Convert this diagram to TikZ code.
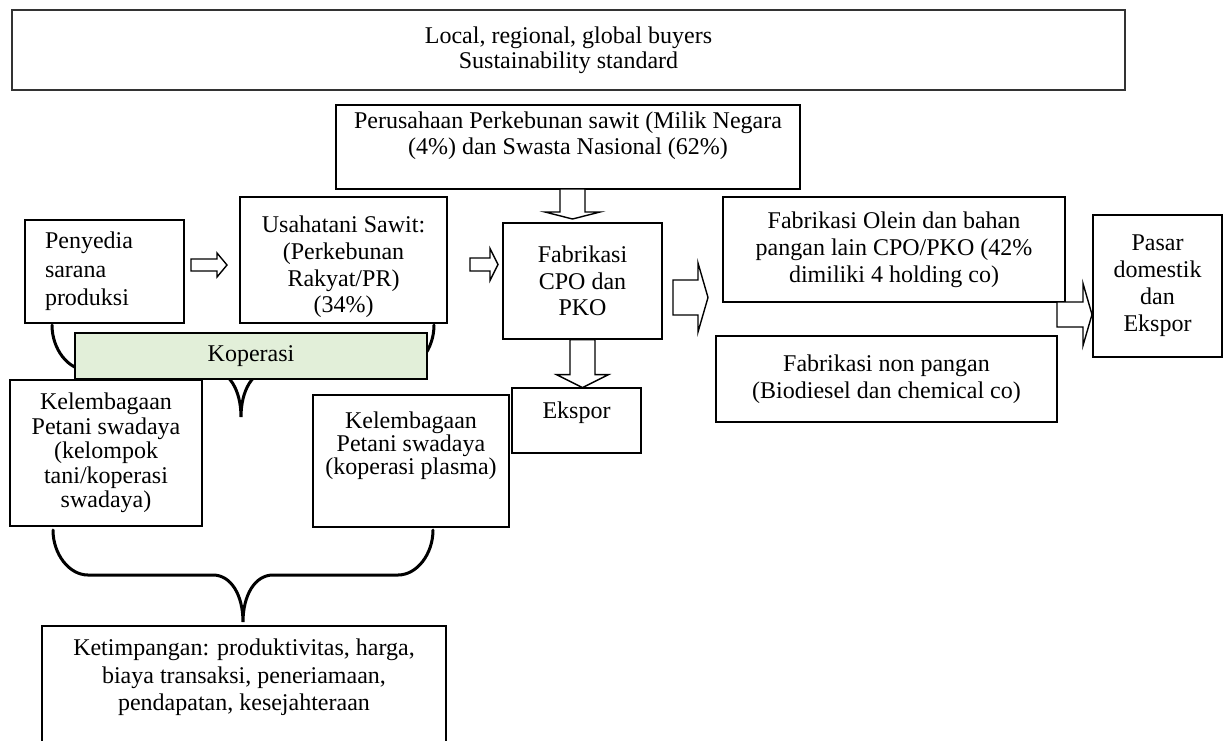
\documentclass[tikz,border=0pt]{standalone}
\usepackage{fontspec}
\setmainfont{Liberation Serif}
\usepackage{tikz}
\usetikzlibrary{calc}
\definecolor{kopgreen}{HTML}{E2EFD9}
\tikzset{
  box/.style={draw=black, line width=.6pt, inner sep=2pt, align=center, font=\fontsize{12}{13.5}\selectfont},
  coop/.style={box, fill=kopgreen},
  brace/.style={line width=1.5pt, line cap=round},
  fatarrow/.style={draw=black, fill=white, line width=.7pt, line join=miter}}

% block arrows: tail, shaft length, total length, shaft half width, head half width
\newcommand{\rightfat}[5]{%
  \draw[fatarrow, shift={(#1)}] (0,-#4) -- (#2,-#4) -- (#2,-#5) -- (#3,0) -- (#2,#5) -- (#2,#4) -- (0,#4) -- cycle;}
\newcommand{\downfat}[5]{%
  \draw[fatarrow, shift={(#1)}] (-#4,0) -- (-#4,#2) -- (-#5,#2) -- (0,#3) -- (#5,#2) -- (#4,#2) -- (#4,0) -- cycle;}
% curly brace opening downwards: left x, right x, top y, middle x
\newcommand{\wordbrace}[4]{%
  \draw[brace] (#1,#3) .. controls (#1,#3+12) and (#1+8,#3+22.5) .. (#1+17.5,#3+22.5)
    -- (#4-15,#3+22.5) .. controls (#4-6,#3+22.5) and (#4,#3+32.5) .. (#4,#3+46)
    .. controls (#4,#3+32.5) and (#4+6,#3+22.5) .. (#4+15,#3+22.5)
    -- (#2-17.5,#3+22.5) .. controls (#2-8,#3+22.5) and (#2,#3+12) .. (#2,#3);}

\begin{document}
\begin{tikzpicture}[x=1pt,y=-1pt]
        \path[use as bounding box, clip] (0,0) rectangle (612,370);

        \wordbrace{26}{217}{162.5}{120.5}
        \wordbrace{26.5}{216.5}{265}{121.5}

        \node[box, line width=1pt, draw=black!80, minimum width=556.5pt, minimum height=40pt,
              font=\fontsize{12}{12.5}\selectfont] (buyers) at (284.25,25)
              {Local, regional, global buyers\\Sustainability standard};
        \node[box, minimum width=232pt, minimum height=42pt, font=\fontsize{12}{13}\selectfont] (perusahaan) at (284,73.5)
              {Perusahaan Perkebunan sawit (Milik Negara\\(4\%) dan Swasta Nasional (62\%)\\[1pt]\mbox{}};
        \node[box, align=left, text width=59.5pt, inner xsep=10pt, minimum height=51.5pt,
              font=\fontsize{12}{14.25}\selectfont] (penyedia) at (52.25,135.75)
              {Penyedia\\sarana\\produksi};
        \node[box, minimum width=103.5pt, minimum height=63pt, font=\fontsize{12}{13.35}\selectfont] (usaha) at (171.75,130)
              {\mbox{}\\[1.85pt]Usahatani Sawit:\\(Perkebunan\\Rakyat/PR)\\(34\%)};
        \node[box, minimum width=79.5pt, minimum height=58pt, font=\fontsize{12}{13.25}\selectfont] (cpo) at (291.25,140.5)
              {Fabrikasi\\CPO dan\\PKO};
        \node[box, minimum width=64.5pt, minimum height=32.5pt] (ekspor) at (288.25,210.25)
              {Ekspor\\[-3.4pt]\mbox{}};
        \node[coop, minimum width=176pt, minimum height=23pt] (koperasi) at (125.5,178) {Koperasi};
        \node[box, minimum width=96pt, minimum height=73pt, font=\fontsize{12}{12.25}\selectfont] (swadaya) at (53,226.5)
              {Kelembagaan\\Petani swadaya\\(kelompok\\tani/koperasi\\swadaya)};
        \node[box, minimum width=98pt, minimum height=66pt, font=\fontsize{12}{11.5}\selectfont] (plasma) at (205.5,230.5)
              {Kelembagaan\\Petani swadaya\\(koperasi plasma)\\[6.6pt]\mbox{}};
        \node[box, minimum width=202pt, minimum height=67pt, font=\fontsize{12}{13.75}\selectfont] (ketimpangan) at (122,346.5)
              {Ketimpangan: produktivitas, harga,\\biaya transaksi, peneriamaan,\\pendapatan, kesejahteraan\\[4.35pt]\mbox{}};
        \node[box, minimum width=171pt, minimum height=52.5pt] (olein) at (447,124.75)
              {Fabrikasi Olein dan bahan\\pangan lain CPO/PKO (42\%\\dimiliki 4 holding co)};
        \node[box, minimum width=170.5pt, minimum height=43pt] (nonpangan) at (443.25,189.5)
              {Fabrikasi non pangan\\(Biodiesel dan chemical co)};
        \node[box, minimum width=64.5pt, minimum height=71pt] (pasar) at (578.75,143)
              {Pasar\\domestik\\dan\\Ekspor};

        \rightfat{95.5,132.5}{13}{18}{3}{6}
        \rightfat{235,132.25}{10}{14}{3.25}{8}
        \rightfat{336.5,148.75}{12.5}{17.5}{8.75}{17.25}
        \rightfat{528.5,157.25}{13}{17.5}{6.25}{15.5}
        \downfat{286.25,94.5}{11.5}{15}{6.25}{13.75}
        \downfat{cpo.south}{17.5}{24}{6.25}{13}
    \end{tikzpicture}
\end{document}
